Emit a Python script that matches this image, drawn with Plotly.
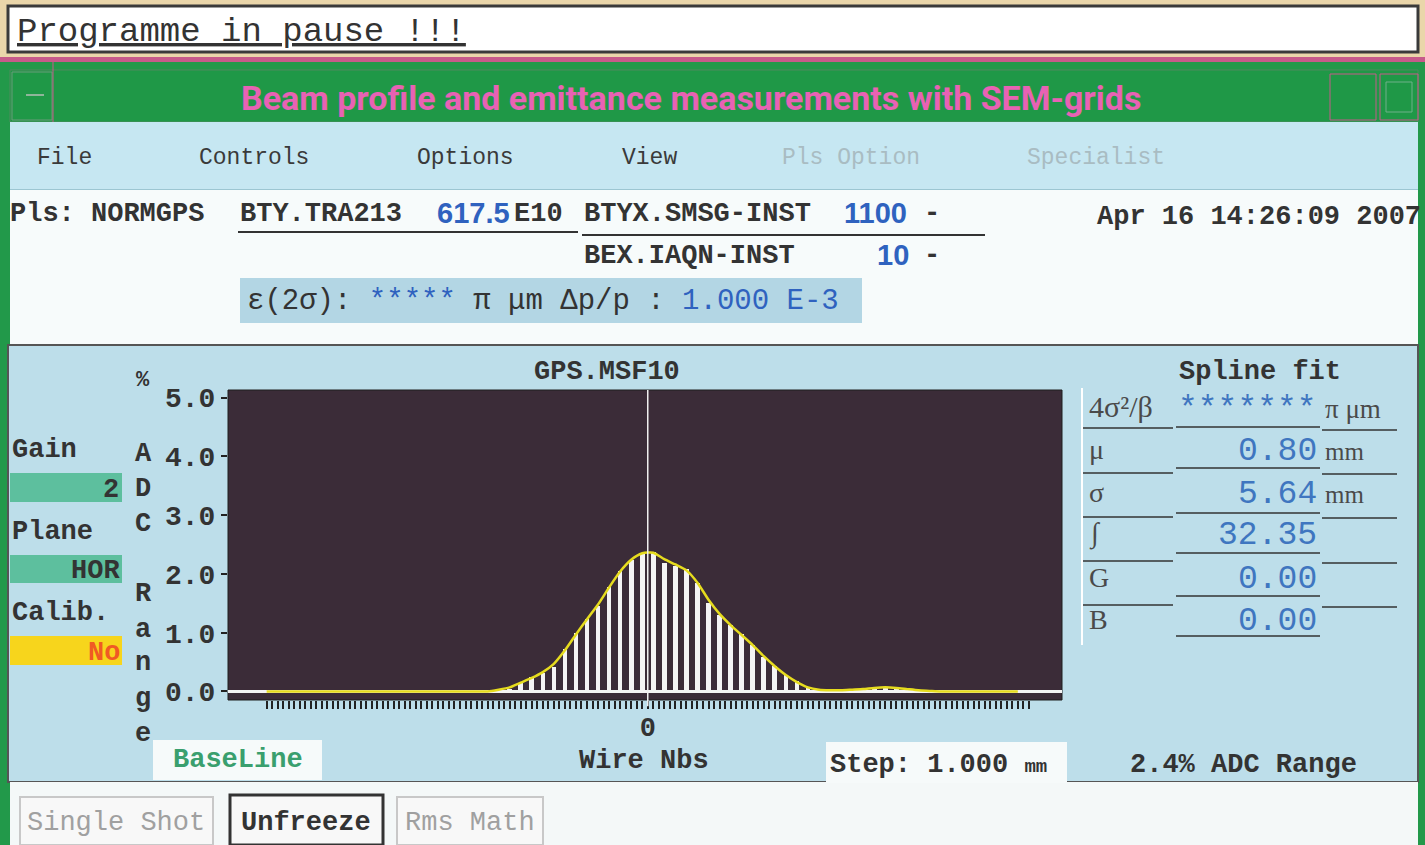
import numpy as np
import plotly.graph_objects as go

W, H = 1425, 845

# ---------------- data ----------------
wire_positions = list(np.arange(-34.5, 35.0, 1.0))          # wire centres (mm)
signal = [0.0] * 21 + [
    0.02, 0.05, 0.14, 0.25, 0.32, 0.41, 0.72, 0.99, 1.23, 1.45,
    1.77, 2.05, 2.24, 2.35, 2.37, 2.19, 2.13, 2.08, 1.84, 1.51,
    1.30, 1.13, 0.97, 0.79, 0.59, 0.43, 0.28, 0.17, 0.07, 0.03,
    0.02, 0.01, 0.02, 0.03, 0.06, 0.08, 0.07, 0.04, 0.02, 0.01,
] + [0.0] * 9
spline_fit = [0.0] * 21 + [
    0.03, 0.07, 0.15, 0.23, 0.33, 0.47, 0.70, 0.97, 1.23, 1.48,
    1.77, 2.04, 2.24, 2.35, 2.36, 2.25, 2.16, 2.06, 1.85, 1.56,
    1.32, 1.13, 0.96, 0.79, 0.60, 0.43, 0.28, 0.16, 0.07, 0.03,
    0.02, 0.02, 0.03, 0.04, 0.06, 0.07, 0.06, 0.04, 0.02, 0.01,
] + [0.0] * 8
fit_positions = wire_positions[:len(spline_fit)]
y_tick_values = [0, 1, 2, 3, 4, 5]
y_tick_labels = ["0.0", "1.0", "2.0", "3.0", "4.0", "5.0"]
x_tick_values = list(np.arange(-34.5, 34.75, 0.5))
x_tick_labels = ["0" if v == 0 else "" for v in x_tick_values]

fit_labels = ["4σ²/β", "μ", "σ", "∫", "G", "B"]
fit_values = ["*******", "0.80", "5.64", "32.35", "0.00", "0.00"]
fit_units = ["π μm", "mm", "mm", "", "", ""]
menu_items = ["File", "Controls", "Options", "View", "Pls Option", "Specialist"]

# ---------------- helpers ----------------
MONO = "Liberation Mono, DejaVu Sans Mono, monospace"
SERIF = "Liberation Serif, DejaVu Serif, serif"
SANS = "Liberation Sans Narrow, Roboto, Liberation Sans, sans-serif"
DARK = "#333333"
BLUE = "#2f62bf"

def px(x):
    return x / W

def py(y):
    return 1 - y / H

shapes = []
annotations = []

def rect(x0, y0, x1, y1, fill=None, line=None, lw=0):
    shapes.append(dict(type="rect", xref="paper", yref="paper",
                       x0=px(x0), x1=px(x1), y0=py(y1), y1=py(y0),
                       fillcolor=fill if fill else "rgba(0,0,0,0)",
                       line=dict(color=line if line else "rgba(0,0,0,0)", width=lw),
                       layer="below"))

def hline(x0, x1, y, color=DARK, lw=2):
    shapes.append(dict(type="line", xref="paper", yref="paper",
                       x0=px(x0), x1=px(x1), y0=py(y), y1=py(y),
                       line=dict(color=color, width=lw), layer="below"))

def vline(x, y0, y1, color=DARK, lw=2):
    shapes.append(dict(type="line", xref="paper", yref="paper",
                       x0=px(x), x1=px(x), y0=py(y0), y1=py(y1),
                       line=dict(color=color, width=lw), layer="below"))

def text(x, y, s, size=27, color=DARK, family=MONO, anchor="left", bold=True):
    annotations.append(dict(x=px(x), y=py(y + 2), xref="paper", yref="paper",
                            text=s, showarrow=False, xanchor=anchor, yanchor="middle",
                            font=dict(size=size, color=color, family=family,
                                      weight="bold" if bold else "normal")))

# ---------------- window chrome ----------------
rect(0, 0, W, 62, fill="#ead6aa")
rect(8, 6, 1418, 52, fill="#ffffff", line="#3a3a3a", lw=3)
rect(0, 57, W, 62, fill="#c65a8a")
rect(0, 62, W, H, fill="#22994a")
rect(10, 70, 1418, 122, fill="#1f9847", line="#4e8a5e", lw=1)
rect(12, 72, 52, 120, line="#6a9a7a", lw=1)
hline(26, 44, 95, color="#8fb59a", lw=2)
vline(53, 62, 122, color="#c65a8a", lw=1)
rect(1330, 74, 1376, 120, line="#c65a8a", lw=1)
rect(1380, 74, 1418, 120, line="#c65a8a", lw=1)
rect(1386, 82, 1412, 112, line="#6fb08a", lw=1)
rect(10, 122, 1418, 190, fill="#c6e7f2")
hline(10, 1418, 190, color="#9cc6d2", lw=2)
rect(10, 190, 1418, 345, fill="#f7fbfb")
rect(240, 278, 862, 323, fill="#b3d6e4")
rect(8, 345, 1418, 782, fill="#bddeea", line="#555555", lw=2)
rect(10, 782, 1418, H, fill="#f4f8f8")

# left status boxes
rect(10, 473, 122, 502, fill="#5dbf9e")
rect(10, 555, 122, 583, fill="#5dbf9e")
rect(10, 636, 122, 665, fill="#f7d51c")

# bottom label boxes
rect(153, 740, 322, 780, fill="#f6fafa")
rect(826, 742, 1067, 783, fill="#f6fafa")

# plot dark background
rect(228, 390, 1062, 700, fill="#3b2c38", line="#1e1e1e", lw=1)

# table
vline(1082, 388, 645, color="#ffffff", lw=2)
for yy in [428, 473, 517, 561, 605]:
    hline(1083, 1173, yy, lw=1.5)
for yy in [427, 468, 513, 553, 596, 636]:
    hline(1176, 1320, yy, lw=1.5)
for yy in [430, 474, 518, 563, 607]:
    hline(1322, 1397, yy, lw=1.5)

# info underlines
hline(238, 578, 232, lw=2)
hline(582, 985, 235, lw=2)

# buttons
rect(20, 797, 213, 845, fill="#f8f8f8", line="#c8c8c8", lw=2)
rect(230, 795, 383, 845, fill="#f8f8f8", line="#333333", lw=3)
rect(397, 797, 543, 845, fill="#f8f8f8", line="#c8c8c8", lw=2)

# ---------------- texts ----------------
text(15, 30, "<u>Programme in pause !!!</u>", size=34, family=MONO, bold=False)
text(691, 96, "Beam profile and emittance measurements with SEM-grids",
     size=34, color="#e862b4", family=SANS, anchor="center")

menu_x = [35, 197, 415, 620, 780, 1025]
for i, (mx, item) in enumerate(zip(menu_x, menu_items)):
    col = "#3a3a3a" if i < 4 else "#a9bcc2"
    text(mx, 156, item, size=23, color=col, bold=False)

text(8, 212, "Pls: NORMGPS")
text(238, 212, "BTY.TRA213")
text(435, 211, "617.5", size=29, color=BLUE, family="Liberation Sans, sans-serif")
text(512, 212, "E10")
text(582, 212, "BTYX.SMSG-INST")
text(842, 211, "1100", size=29, color=BLUE, family="Liberation Sans, sans-serif")
text(922, 212, "-")
text(1095, 215, "Apr 16 14:26:09 2007")
text(582, 254, "BEX.IAQN-INST")
text(875, 253, "10", size=29, color=BLUE, family="Liberation Sans, sans-serif")
text(922, 254, "-")
text(245, 300,
     "ε(2σ): <span style='color:%s'>*****</span> π μm Δp/p : <span style='color:%s'>1.000 E-3</span>" % (BLUE, BLUE),
     size=29, bold=False)

text(607, 370, "GPS.MSF10", anchor="center")
text(143, 378, "%", size=22, anchor="center")
for letter, yy in zip("ADCRange", [452, 487, 522, 592, 628, 661, 697, 732]):
    text(143, yy, letter, anchor="center")

text(10, 448, "Gain")
text(121, 488, "2", anchor="right")
text(10, 530, "Plane")
text(122, 569, "HOR", anchor="right")
text(10, 611, "Calib.")
text(122, 651, "No", color="#f05a24", anchor="right")

text(644, 759, "Wire Nbs", anchor="center")
text(238, 758, "BaseLine", color="#3a9f6e", anchor="center")
text(828, 763, "Step: 1.000 <span style='font-size:19px'>mm</span>")
text(1243, 763, "2.4% ADC Range", anchor="center")

text(1260, 370, "Spline fit", anchor="center")
row_y = [405, 447, 490, 531, 575, 617]
for lab, val, unit, yy in zip(fit_labels, fit_values, fit_units, row_y):
    text(1087, yy, lab, size=30 if lab == "4σ²/β" else 28, color="#4a4a4a", family=SERIF, bold=False)
    text(1319, yy + 2, val, size=33, color="#3f76c0", bold=False, anchor="right")
    if unit:
        text(1323, yy + 2, unit, size=27 if unit != "mm" else 25, color="#4a4a4a",
             family=SERIF, bold=False)

text(116, 821, "Single Shot", color="#a0a0a0", bold=False, anchor="center")
text(306, 821, "Unfreeze", anchor="center")
text(470, 821, "Rms Math", color="#a0a0a0", bold=False, anchor="center")

# ---------------- traces ----------------
fig = go.Figure()
fig.add_trace(go.Bar(x=wire_positions, y=signal, width=0.42,
                     marker=dict(color="#f4f4f4", line=dict(width=0)),
                     hoverinfo="x+y", showlegend=False))
fig.add_trace(go.Scatter(x=fit_positions, y=spline_fit, mode="lines",
                         line=dict(color="#e6dc1e", width=2.5, shape="spline", smoothing=0.6),
                         hoverinfo="skip", showlegend=False))

# baseline and zero marker (data referenced)
shapes.append(dict(type="line", xref="x domain", yref="y", x0=0, x1=1, y0=0, y1=0,
                   line=dict(color="#f4f4f4", width=3), layer="below"))
shapes.append(dict(type="line", xref="x", yref="y domain", x0=0, x1=0, y0=-0.02, y1=1,
                   line=dict(color="#f0f0f0", width=1.5), layer="above"))

fig.update_layout(
    template="none",
    width=W, height=H, autosize=False,
    margin=dict(l=0, r=0, t=0, b=0, pad=0, autoexpand=False),
    paper_bgcolor="#f4f8f8", plot_bgcolor="rgba(0,0,0,0)",
    shapes=shapes, annotations=annotations, bargap=0,
    xaxis=dict(domain=[px(228), px(1062)], range=[-38.0, 37.5], automargin=False,
               tickmode="array", tickvals=x_tick_values, ticktext=x_tick_labels,
               ticks="outside", ticklen=8, tickwidth=1.5, tickcolor="#222222",
               ticklabelstandoff=-5,
               showgrid=False, zeroline=False, showline=False,
               tickfont=dict(family=MONO, size=27, color=DARK, weight="bold")),
    yaxis=dict(domain=[py(700), py(390)], range=[-0.145, 5.128], automargin=False,
               tickmode="array", tickvals=y_tick_values, ticktext=y_tick_labels,
               ticks="outside", ticklen=6, tickwidth=1.5, tickcolor="#222222",
               showgrid=False, zeroline=False, showline=False,
               tickfont=dict(family=MONO, size=28, color=DARK, weight="bold")),
)

fig.write_html("out.html", config={"displayModeBar": False},
               post_script="document.body.style.margin='0';document.body.style.overflow='hidden';")
